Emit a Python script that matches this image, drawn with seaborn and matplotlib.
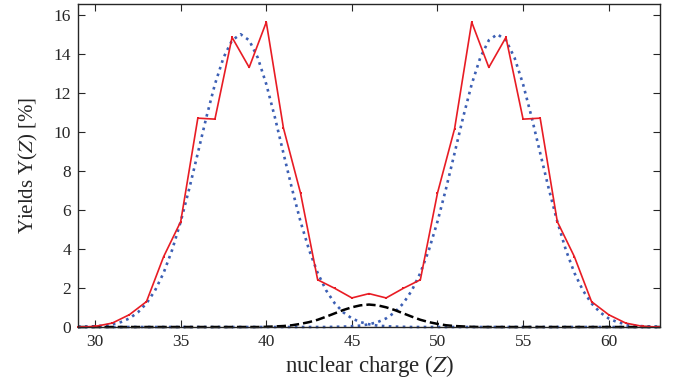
import numpy as np
import pandas as pd
import matplotlib
matplotlib.use("Agg")
import matplotlib.pyplot as plt
import seaborn as sns

# measured yields at integer Z
z_data = list(range(29, 64))
yield_data = [0.0, 0.03, 0.2, 0.63, 1.3, 3.6, 5.4, 10.7, 10.65, 14.84, 13.3, 15.62,
              10.2, 6.86, 2.42, 1.98, 1.49, 1.71, 1.49, 1.98, 2.42, 6.86, 10.16,
              15.62, 13.3, 14.84, 10.65, 10.7, 5.4, 3.6, 1.3, 0.63, 0.2, 0.03, 0.0]

# fitted curves, read every half unit of Z
z_fit = [29 + 0.5 * i for i in range(69)]
light_fit = [0.01, 0.02, 0.04, 0.07, 0.14, 0.25, 0.44, 0.75, 1.21, 1.87, 2.77, 3.95,
             5.40, 7.09, 8.91, 10.75, 12.44, 13.80, 14.69, 15.00, 14.69, 13.80, 12.44,
             10.75, 8.91, 7.09, 5.40, 3.95, 2.77, 1.87, 1.21, 0.75, 0.44, 0.25, 0.14,
             0.07, 0.04, 0.02, 0.01] + [0.0] * 30
heavy_fit = [0.0] * 30 + [0.01, 0.02, 0.04, 0.07, 0.14, 0.25, 0.44, 0.75, 1.21, 1.87,
             2.77, 3.95, 5.40, 7.09, 8.91, 10.75, 12.44, 13.80, 14.69, 15.00, 14.69,
             13.80, 12.44, 10.75, 8.91, 7.09, 5.40, 3.95, 2.77, 1.87, 1.21, 0.75, 0.44,
             0.25, 0.14, 0.07, 0.04, 0.02, 0.01]
sym_fit = [0.0] * 22 + [0.01, 0.03, 0.05, 0.09, 0.16, 0.25, 0.37, 0.53, 0.70, 0.87,
           1.01, 1.11, 1.15, 1.11, 1.01, 0.87, 0.70, 0.53, 0.37, 0.25, 0.16, 0.09,
           0.05, 0.03, 0.01] + [0.0] * 22

sns.set_style("ticks")
plt.rcParams['font.family'] = ['Liberation Serif', 'DejaVu Serif']
plt.rcParams['mathtext.fontset'] = 'stix'

fig = plt.figure(figsize=(6.8, 3.83), dpi=100)
ax = fig.add_axes([0.1147, 0.1462, 0.8559, 0.8434])

sns.lineplot(x=z_fit, y=light_fit, ax=ax, color='#3c5fb4', linestyle=':', linewidth=1.9,
             clip_on=False)
sns.lineplot(x=z_fit, y=heavy_fit, ax=ax, color='#3c5fb4', linestyle=':', linewidth=1.9,
             clip_on=False)
sns.lineplot(x=z_fit, y=sym_fit, ax=ax, color='black', linestyle='--', linewidth=1.8,
             clip_on=False)
sns.lineplot(x=z_data, y=yield_data, ax=ax, color='#e81c24', linewidth=1.2,
             marker='s', markersize=2, markeredgewidth=0, clip_on=False)

ax.set_xlim(29, 63)
ax.set_ylim(0, 16.55)
ax.set_xticks([30, 35, 40, 45, 50, 55, 60])
ax.set_yticks([0, 2, 4, 6, 8, 10, 12, 14, 16])
ax.tick_params(direction='in', top=True, right=True, length=5, width=0.8,
               labelsize=12.5, pad=5)
for s in ax.spines.values():
    s.set_linewidth(1.0)

ax.set_xlabel('nuclear charge ($Z$)', fontsize=16.5, labelpad=2)
ax.set_ylabel('Yields Y($Z$) [%]', fontsize=15, labelpad=10)

fig.savefig('out.png', dpi=100)
